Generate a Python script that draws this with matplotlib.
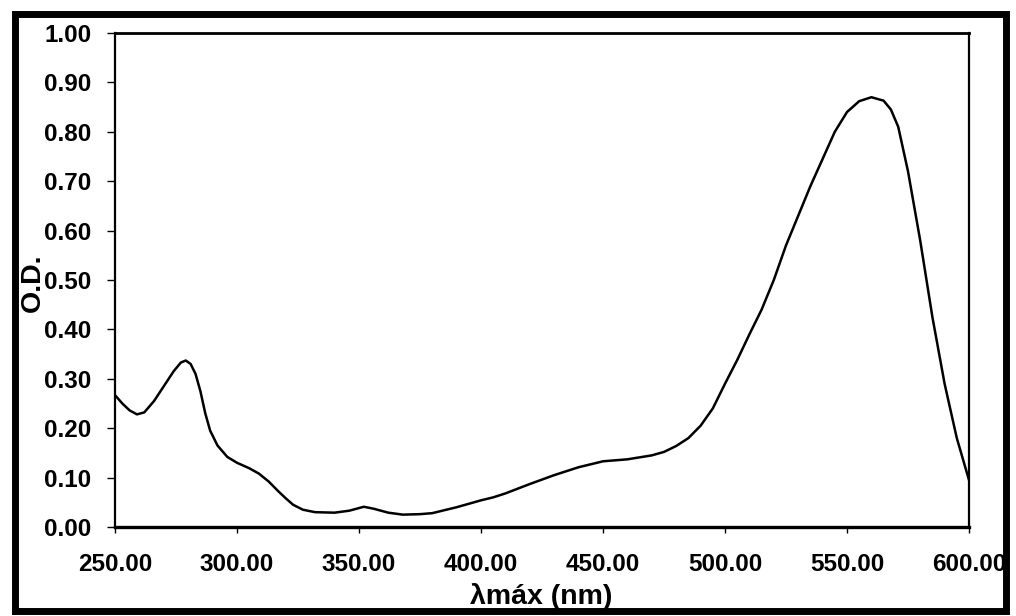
import matplotlib
matplotlib.use("Agg")
import matplotlib.pyplot as plt
from matplotlib.patches import Rectangle

# Data
wavelength = [250, 253, 256, 259, 262, 266, 270, 274, 277, 279, 281, 283, 285, 287,
              289, 292, 296, 300, 305, 309, 313, 317, 320, 323, 327, 332, 340, 346,
              352, 356, 362, 368, 375, 380, 385, 390, 395, 400, 405, 410, 420, 430,
              440, 450, 460, 470, 475, 480, 485, 490, 495, 500, 505, 510, 515, 520,
              525, 530, 535, 540, 545, 550, 555, 560, 565, 568, 571, 575, 580, 585,
              590, 595, 600]
od = [0.267, 0.250, 0.236, 0.228, 0.232, 0.255, 0.285, 0.315, 0.333, 0.337, 0.330,
      0.310, 0.275, 0.230, 0.195, 0.165, 0.142, 0.130, 0.119, 0.108, 0.092, 0.072,
      0.058, 0.045, 0.035, 0.030, 0.029, 0.033, 0.041, 0.037, 0.029, 0.025, 0.026,
      0.028, 0.034, 0.040, 0.047, 0.054, 0.060, 0.068, 0.087, 0.105, 0.121, 0.133,
      0.137, 0.145, 0.152, 0.164, 0.180, 0.205, 0.240, 0.290, 0.338, 0.390, 0.440,
      0.500, 0.570, 0.630, 0.690, 0.745, 0.800, 0.840, 0.862, 0.870, 0.863, 0.845,
      0.810, 0.720, 0.580, 0.425, 0.290, 0.180, 0.095]

xticks = [250, 300, 350, 400, 450, 500, 550, 600]
yticks = [0.0, 0.1, 0.2, 0.3, 0.4, 0.5, 0.6, 0.7, 0.8, 0.9, 1.0]
xlabel = "λmáx (nm)"
ylabel = "O.D."

plt.rcParams['font.family'] = ['Liberation Sans', 'DejaVu Sans']

W, H = 1016, 616
fig = plt.figure(figsize=(W / 100, H / 100), dpi=100)
fig.patch.set_facecolor('white')

L, R, T, B = 115, 969, 33, 527
ax = fig.add_axes([L / W, 1 - B / H, (R - L) / W, (B - T) / H])

ax.plot(wavelength, od, color='black', lw=1.8, solid_joinstyle='round',
        solid_capstyle='round')
ax.set_xlim(250, 600)
ax.set_ylim(0, 1.0)
ax.set_xticks(xticks)
ax.set_xticklabels([f"{v:.2f}" for v in xticks])
ax.set_yticks(yticks)
ax.set_yticklabels([f"{v:.2f}" for v in yticks])

for s in ax.spines.values():
    s.set_linewidth(1.6)
    s.set_color('black')
ax.spines['bottom'].set_linewidth(2.4)
ax.spines['top'].set_linewidth(2.0)

ax.tick_params(axis='y', direction='out', length=6, width=1.0, pad=11,
               labelsize=17.5)
ax.tick_params(axis='x', direction='out', length=4, width=1.0, pad=15,
               labelsize=17.5)
for lab in ax.get_xticklabels() + ax.get_yticklabels():
    lab.set_fontweight('bold')

fig.text(541 / W, 1 - 597 / H, xlabel, ha='center', va='center',
         fontsize=20.5, fontweight='bold')
fig.text(33 / W, 1 - 283 / H, ylabel, ha='center', va='center',
         rotation=90, fontsize=20.5, fontweight='bold')

# Outer thick frame
frame = Rectangle((15 / W, 1 - 611 / H), (1006 - 15) / W, (611 - 14) / H,
                  transform=fig.transFigure, fill=False, edgecolor='black',
                  linewidth=5, zorder=10)
fig.patches.append(frame)

fig.savefig("out.png", dpi=100, facecolor='white')
